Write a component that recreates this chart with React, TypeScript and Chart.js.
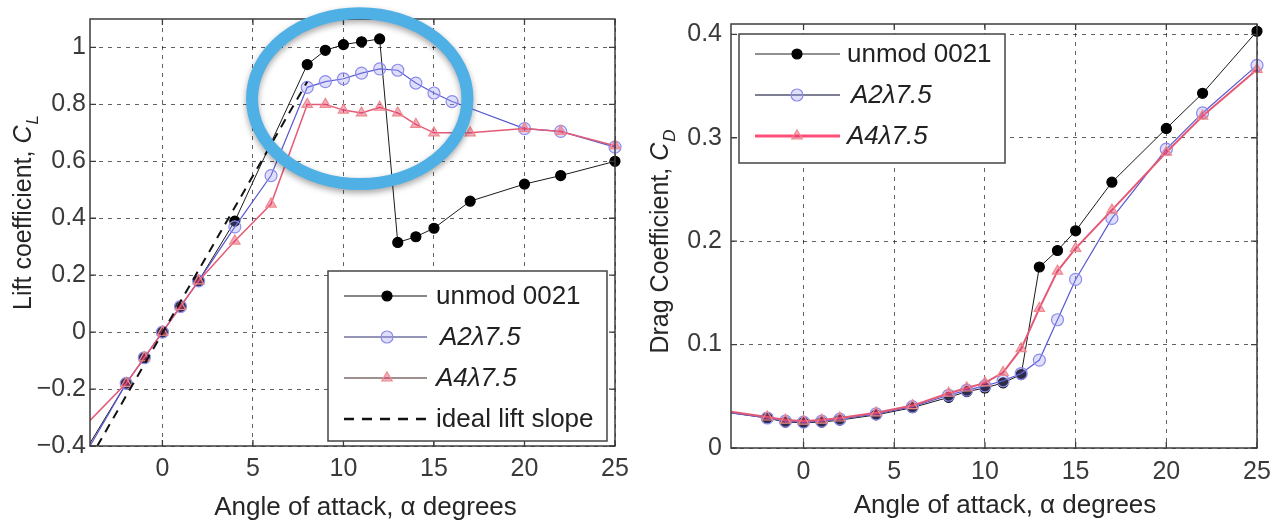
import React, { useEffect, useRef } from 'react';
import { Chart, registerables } from 'chart.js';

Chart.register(...registerables);

const FONT = '"Liberation Sans", Arial, Helvetica, sans-serif';

// ---------- data ----------
const xTickValues = [0, 5, 10, 15, 20, 25];
const liftTickValues = [-0.4, -0.2, 0, 0.2, 0.4, 0.6, 0.8, 1];
const dragTickValues = [0, 0.1, 0.2, 0.3, 0.4];

const seriesLabels = ['unmod 0021', 'A2λ7.5', 'A4λ7.5', 'ideal lift slope'];
const xTitle = 'Angle of attack, α degrees';
const liftTitle = ['Lift coefficient, ', 'C', 'L'];
const dragTitle = ['Drag Coefficient, ', 'C', 'D'];

const liftAnglesUnmod = [-4, -2, -1, 0, 1, 2, 4, 8, 9, 10, 11, 12, 13, 14, 15, 17, 20, 22, 25];
const liftUnmod = [-0.39, -0.18, -0.09, 0, 0.09, 0.18, 0.39, 0.94, 0.99, 1.01, 1.02, 1.03, 0.315, 0.335, 0.365, 0.46, 0.52, 0.55, 0.6];

const liftAnglesA2 = [-4, -2, -1, 0, 1, 2, 4, 6, 8, 9, 10, 11, 12, 13, 14, 15, 16, 20, 22, 25];
const liftA2 = [-0.4, -0.18, -0.09, 0, 0.09, 0.18, 0.37, 0.55, 0.86, 0.88, 0.89, 0.91, 0.925, 0.92, 0.875, 0.84, 0.81, 0.715, 0.705, 0.65];

const liftAnglesA4 = [-4, -2, -1, 0, 1, 2, 4, 6, 8, 9, 10, 11, 12, 13, 14, 15, 17, 20, 22, 25];
const liftA4 = [-0.31, -0.18, -0.09, 0, 0.09, 0.18, 0.32, 0.45, 0.8, 0.8, 0.78, 0.77, 0.79, 0.77, 0.73, 0.7, 0.7, 0.715, 0.705, 0.655];

const idealAngles = [-3.6, 8];
const idealLift = [-0.4, 0.88];

const dragAngles = [-4, -2, -1, 0, 1, 2, 4, 6, 8, 9, 10, 11, 12, 13, 14, 15, 17, 20, 22, 25];
const dragUnmod = [0.034, 0.029, 0.025, 0.0245, 0.025, 0.027, 0.032, 0.039, 0.049, 0.0545, 0.058, 0.063, 0.071, 0.175, 0.191, 0.21, 0.257, 0.309, 0.343, 0.403];
const dragA2 = [0.034, 0.029, 0.026, 0.025, 0.026, 0.028, 0.033, 0.04, 0.051, 0.056, 0.06, 0.065, 0.072, 0.085, 0.124, 0.163, 0.222, 0.289, 0.324, 0.37];
const dragA4 = [0.035, 0.03, 0.027, 0.026, 0.027, 0.029, 0.034, 0.041, 0.053, 0.058, 0.063, 0.073, 0.096, 0.135, 0.171, 0.193, 0.23, 0.286, 0.321, 0.366];

// highlight ellipse (data units): centre angle, centre CL, half-width (deg), half-height (CL)
const highlight = [10.9, 0.82, 5.95, 0.3];

// ---------- styles ----------
const sUnmod = { line: '#1a1a1a', width: 1, marker: 'circle', r: 5, fill: '#000000', stroke: '#000000' };
const sA2 = { line: '#5858d0', width: 1.2, marker: 'circle', r: 6, fill: 'rgba(150,150,245,0.3)', stroke: '#8c8cec' };
const sA4 = { line: '#e45a76', width: 1.5, marker: 'triangle', r: 6, fill: 'rgba(225,50,105,0.4)', stroke: '#f08a8a' };

const zip = (xs: number[], ys: number[]) => xs.map((x, i) => ({ x, y: ys[i] }));

function ds(label: string, xs: number[], ys: number[], s: any, order: number) {
  return {
    label,
    data: zip(xs, ys),
    borderColor: s.line,
    borderWidth: s.width,
    backgroundColor: s.fill,
    pointBackgroundColor: s.fill,
    pointBorderColor: s.stroke,
    pointBorderWidth: 1.2,
    pointStyle: s.marker,
    pointRadius: (c: any) => (c.raw && c.raw.x <= -4 ? 0 : s.r),
    tension: 0,
    fill: false,
    order,
    clip: { left: 0, top: 12, right: 12, bottom: 0 },
  };
}

function drawMarker(ctx: CanvasRenderingContext2D, style: string, x: number, y: number, r: number, fill: string, stroke: string) {
  ctx.save();
  ctx.beginPath();
  if (style === 'triangle') {
    ctx.moveTo(x, y - r);
    ctx.lineTo(x + r * 0.866, y + r * 0.5);
    ctx.lineTo(x - r * 0.866, y + r * 0.5);
    ctx.closePath();
  } else {
    ctx.arc(x, y, r, 0, Math.PI * 2);
  }
  ctx.fillStyle = fill;
  ctx.fill();
  ctx.strokeStyle = stroke;
  ctx.lineWidth = 1.2;
  ctx.stroke();
  ctx.restore();
}

function drawYTitle(ctx: CanvasRenderingContext2D, parts: string[], cx: number, cy: number, size: number) {
  ctx.save();
  ctx.translate(cx, cy);
  ctx.rotate(-Math.PI / 2);
  const fMain = `${size}px ${FONT}`;
  const fIt = `italic ${size}px ${FONT}`;
  const fSub = `italic ${Math.round(size * 0.68)}px ${FONT}`;
  ctx.font = fMain;
  const w1 = ctx.measureText(parts[0]).width;
  ctx.font = fIt;
  const w2 = ctx.measureText(parts[1]).width;
  ctx.font = fSub;
  const w3 = ctx.measureText(parts[2]).width;
  let x = -(w1 + w2 + w3) / 2;
  const base = size * 0.36;
  ctx.fillStyle = '#262626';
  ctx.textBaseline = 'alphabetic';
  ctx.textAlign = 'left';
  ctx.font = fMain;
  ctx.fillText(parts[0], x, base);
  x += w1;
  ctx.font = fIt;
  ctx.fillText(parts[1], x, base);
  x += w2 + 1;
  ctx.font = fSub;
  ctx.fillText(parts[2], x, base + size * 0.28);
  ctx.restore();
}

function makeDecor(cfg: any) {
  return {
    id: 'decor',
    afterDraw(chart: any) {
      const ctx: CanvasRenderingContext2D = chart.ctx;
      const a = chart.chartArea;
      const xs = chart.scales.x;
      const ys = chart.scales.y;
      ctx.save();
      // axes box
      ctx.strokeStyle = '#3c3c3c';
      ctx.lineWidth = 1.5;
      ctx.strokeRect(a.left, a.top, a.right - a.left, a.bottom - a.top);
      // inward ticks
      ctx.lineWidth = 1.3;
      ctx.beginPath();
      xTickValues.forEach((v) => {
        const p = xs.getPixelForValue(v);
        ctx.moveTo(p, a.bottom);
        ctx.lineTo(p, a.bottom - 6);
        ctx.moveTo(p, a.top);
        ctx.lineTo(p, a.top + 6);
      });
      cfg.yTicks.forEach((v: number) => {
        const p = ys.getPixelForValue(v);
        ctx.moveTo(a.left, p);
        ctx.lineTo(a.left + 6, p);
        ctx.moveTo(a.right, p);
        ctx.lineTo(a.right - 6, p);
      });
      ctx.stroke();

      // legend
      const L = cfg.legend;
      const bl = L.anchor === 'br' ? a.right - L.dx - L.w : a.left + L.dx;
      const bt = L.anchor === 'br' ? a.bottom - L.dy - L.h : a.top + L.dy;
      ctx.fillStyle = '#ffffff';
      ctx.fillRect(bl, bt, L.w, L.h);
      ctx.strokeStyle = '#444444';
      ctx.lineWidth = 1.5;
      ctx.strokeRect(bl, bt, L.w, L.h);
      L.rows.forEach((row: any, i: number) => {
        const y = bt + L.firstRow + i * L.rowGap;
        ctx.save();
        ctx.strokeStyle = row.lineColor;
        ctx.lineWidth = row.lineWidth;
        ctx.setLineDash(row.dash || []);
        ctx.beginPath();
        ctx.moveTo(bl + L.lineX1, y);
        ctx.lineTo(bl + L.lineX2, y);
        ctx.stroke();
        ctx.restore();
        if (row.s) drawMarker(ctx, row.s.marker, bl + L.markerX, y, row.s.r, row.s.fill, row.s.stroke);
        ctx.fillStyle = '#222222';
        ctx.font = `${row.italic ? 'italic ' : ''}${L.fontSize}px ${FONT}`;
        ctx.textAlign = 'left';
        ctx.textBaseline = 'middle';
        ctx.fillText(row.label, bl + L.textX + (row.indent || 0), y + 1);
      });

      // axis titles
      ctx.fillStyle = '#262626';
      ctx.font = `26px ${FONT}`;
      ctx.textAlign = 'center';
      ctx.textBaseline = 'alphabetic';
      ctx.fillText(xTitle, (a.left + a.right) / 2 + cfg.xTitleDx, cfg.xTitleY);
      drawYTitle(ctx, cfg.yTitle, cfg.yTitleX, cfg.yTitleY, 25);

      // highlight ellipse
      if (cfg.highlight) {
        const [hx, hy, hrx, hry] = cfg.highlight;
        const cx = xs.getPixelForValue(hx);
        const cy = ys.getPixelForValue(hy);
        const rx = Math.abs(xs.getPixelForValue(hx + hrx) - cx);
        const ry = Math.abs(ys.getPixelForValue(hy + hry) - cy);
        ctx.save();
        ctx.shadowColor = 'rgba(0,0,0,0.35)';
        ctx.shadowBlur = 6;
        ctx.shadowOffsetY = 3;
        ctx.strokeStyle = '#4fb0e6';
        ctx.lineWidth = 12;
        ctx.beginPath();
        ctx.ellipse(cx, cy, rx, ry, 0, 0, Math.PI * 2);
        ctx.stroke();
        ctx.restore();
      }
      ctx.restore();
    },
  };
}

const fmt = (v: number) => {
  const s = String(Number(Math.abs(v).toFixed(2)));
  return (v < -1e-9 ? '\u2212' : '') + s;
};

function baseOptions(p: any) {
  return {
    responsive: false,
    animation: false,
    events: [],
    layout: { padding: { left: 0, right: p.padRight, top: p.padTop, bottom: 0 } },
    plugins: { legend: { display: false }, tooltip: { enabled: false }, title: { display: false } },
    scales: {
      x: {
        type: 'linear',
        min: -4,
        max: 25,
        afterBuildTicks: (s: any) => {
          s.ticks = xTickValues.map((v) => ({ value: v }));
        },
        afterFit: (s: any) => {
          s.height = p.xHeight;
        },
        grid: { color: 'rgba(0,0,0,0.62)', lineWidth: 1, drawTicks: false },
        border: { display: false, dash: [4, 5] },
        ticks: {
          font: { family: FONT, size: 25 },
          color: '#3a3a3a',
          padding: p.xPad,
          maxRotation: 0,
          autoSkip: false,
          callback: (v: number) => fmt(v),
        },
      },
      y: {
        type: 'linear',
        min: p.yMin,
        max: p.yMax,
        afterBuildTicks: (s: any) => {
          s.ticks = p.yTicks.map((v: number) => ({ value: v }));
        },
        afterFit: (s: any) => {
          s.width = p.yWidth;
        },
        grid: { color: 'rgba(0,0,0,0.62)', lineWidth: 1, drawTicks: false },
        border: { display: false, dash: [4, 5] },
        ticks: {
          font: { family: FONT, size: 25 },
          color: '#3a3a3a',
          padding: p.yPad,
          autoSkip: false,
          callback: (v: number) => fmt(v),
        },
      },
    },
  };
}

function useChart(ref: React.RefObject<HTMLCanvasElement>, build: () => any) {
  useEffect(() => {
    if (!ref.current) return;
    const chart = new Chart(ref.current, build());
    return () => chart.destroy();
  }, []);
}

export default function App() {
  const liftRef = useRef<HTMLCanvasElement>(null);
  const dragRef = useRef<HTMLCanvasElement>(null);

  useChart(liftRef, () => ({
    type: 'line',
    data: {
      datasets: [
        {
          label: seriesLabels[3],
          data: zip(idealAngles, idealLift),
          borderColor: '#111111',
          borderWidth: 2,
          borderDash: [9, 7],
          pointRadius: 0,
          fill: false,
          order: 0,
        },
        ds(seriesLabels[2], liftAnglesA4, liftA4, sA4, 1),
        ds(seriesLabels[1], liftAnglesA2, liftA2, sA2, 2),
        ds(seriesLabels[0], liftAnglesUnmod, liftUnmod, sUnmod, 3),
      ],
    },
    options: baseOptions({ padRight: 25, padTop: 18, xHeight: 78, yWidth: 90, xPad: 8, yPad: 4, yMin: -0.4, yMax: 1.1, yTicks: liftTickValues }),
    plugins: [
      makeDecor({
        yTicks: liftTickValues,
        xTitleDx: 13,
        xTitleY: 515,
        yTitle: liftTitle,
        yTitleX: 22,
        yTitleY: 213,
        highlight,
        legend: {
          anchor: 'br', dx: 8, dy: 5, w: 279, h: 170, firstRow: 25, rowGap: 41,
          lineX1: 16, lineX2: 99, markerX: 59, textX: 108, fontSize: 26,
          rows: [
            { label: seriesLabels[0], lineColor: '#111111', lineWidth: 1.2, s: sUnmod },
            { label: seriesLabels[1], lineColor: '#2b2b70', lineWidth: 1.2, s: sA2, italic: true, indent: 4 },
            { label: seriesLabels[2], lineColor: '#402222', lineWidth: 1.2, s: sA4, italic: true },
            { label: seriesLabels[3], lineColor: '#111111', lineWidth: 2.5, dash: [10, 8] },
          ],
        },
      }),
    ],
  }));

  useChart(dragRef, () => ({
    type: 'line',
    data: {
      datasets: [
        ds(seriesLabels[2], dragAngles, dragA4, { ...sA4, width: 2 }, 1),
        ds(seriesLabels[1], dragAngles, dragA2, sA2, 2),
        ds(seriesLabels[0], dragAngles, dragUnmod, sUnmod, 3),
      ],
    },
    options: baseOptions({ padRight: 29, padTop: 23, xHeight: 76, yWidth: 91, xPad: 9, yPad: 9, yMin: 0, yMax: 0.41, yTicks: dragTickValues }),
    plugins: [
      makeDecor({
        yTicks: dragTickValues,
        xTitleDx: 11,
        xTitleY: 513,
        yTitle: dragTitle,
        yTitleX: 19,
        yTitleY: 242,
        highlight: null,
        legend: {
          anchor: 'tl', dx: 8, dy: 10, w: 266, h: 129, firstRow: 20, rowGap: 41,
          lineX1: 16, lineX2: 101, markerX: 58, textX: 108, fontSize: 26,
          rows: [
            { label: seriesLabels[0], lineColor: '#222222', lineWidth: 1.2, s: sUnmod },
            { label: seriesLabels[1], lineColor: '#555570', lineWidth: 1.5, s: sA2, italic: true, indent: 4 },
            { label: seriesLabels[2], lineColor: '#ff4f78', lineWidth: 3, s: sA4, italic: true },
          ],
        },
      }),
    ],
  }));

  return (
    <div style={{ position: 'fixed', left: 0, top: 0, width: 1286, height: 524, background: '#ffffff', overflow: 'hidden' }}>
      <canvas ref={liftRef} width={640} height={524} style={{ position: 'absolute', left: 0, top: 0, display: 'block' }} />
      <canvas ref={dragRef} width={646} height={524} style={{ position: 'absolute', left: 640, top: 0, display: 'block' }} />
    </div>
  );
}
